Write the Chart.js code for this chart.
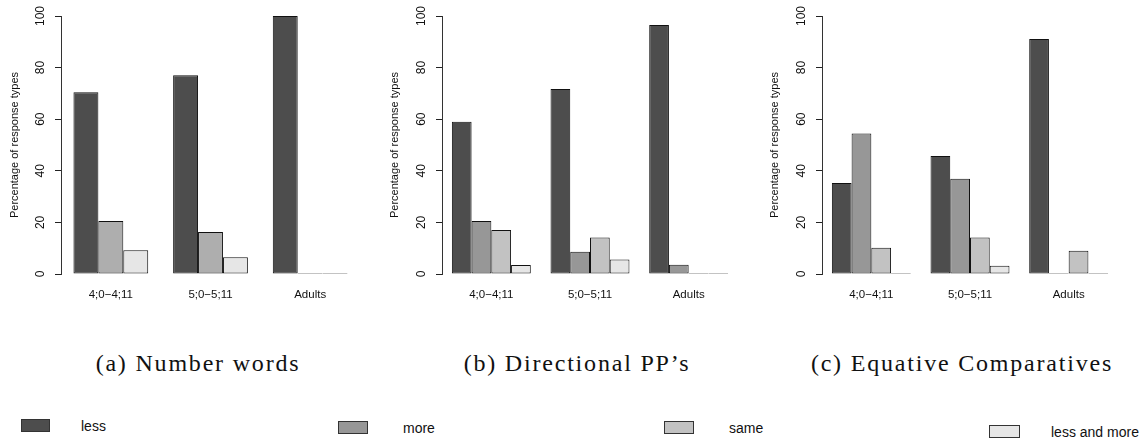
<!DOCTYPE html>
<html>
<head>
<meta charset="utf-8">
<script src="https://cdn.jsdelivr.net/npm/chart.js@4/dist/chart.umd.min.js"></script>
<style>
  html, body { margin: 0; padding: 0; background: #fff; }
  #wrap { position: relative; width: 1146px; height: 438px; overflow: hidden; background: #fff; }
  canvas { position: absolute; top: 0; }
  .cap {
    position: absolute; top: 349px; width: 380px; text-align: center;
    font-family: "Liberation Serif", serif; font-size: 24px; letter-spacing: 1.8px;
    color: #111; white-space: nowrap; line-height: 28px;
  }
  .key { position: absolute; font-family: "Liberation Sans", Arial, sans-serif; font-size: 14px; color: #111; line-height: 16px; }
  .box { position: absolute; height: 11px; border: 1px solid #333; }
</style>
</head>
<body>
<div id="wrap">
  <canvas id="chartA" width="380" height="310" style="left:0px"></canvas>
  <canvas id="chartB" width="380" height="310" style="left:380px"></canvas>
  <canvas id="chartC" width="380" height="310" style="left:760px"></canvas>
  <div class="cap" style="left:8px">(a) Number words</div>
  <div class="cap" style="left:387px">(b) Directional PP’s</div>
  <div class="cap" style="left:772px">(c) Equative Comparatives</div>
  <div id="legend"></div>
</div>
<script>
// --- data (percent of response types) ---
const groups = ["4;0\u22124;11", "5;0\u22125;11", "Adults"];
const yTicks = [0, 20, 40, 60, 80, 100];
const yTitle = "Percentage of response types";

// (a) Number words
const lessA = [70.4, 77.0, 100];
const moreA = [20.5, 16.3, 0];
const lamA = [9.2, 6.5, 0];

// (b) Directional PP's
const lessB = [59.0, 71.7, 96.5];
const moreB = [20.5, 8.6, 3.6];
const sameB = [17.1, 14.1, 0];
const lamB = [3.5, 5.6, 0];

// (c) Equative Comparatives
const lessC = [35.3, 45.7, 91.1];
const moreC = [54.5, 36.9, 0];
const sameC = [10.2, 14.1, 9.0];
const lamC = [0, 3.2, 0];

const legendLabels = ["less", "more", "same", "less and more"];
const greys4 = ["#4D4D4D", "#979797", "#C2C2C2", "#E6E6E6"];
const greys3 = ["#4D4D4D", "#AEAEAE", "#E6E6E6"];

const sans = "'Liberation Sans', Arial, sans-serif";

function makeChart(id, series, names, colors, axisW, padRight, catPct) {
  const datasets = series.map((vals, i) => ({
    label: names[i],
    data: vals,
    backgroundColor: colors[i],
    borderColor: "#111",
    borderWidth: 1,
    borderSkipped: false,
    minBarLength: 1,
    barPercentage: 1.0,
    categoryPercentage: catPct,
  }));
  return new Chart(document.getElementById(id), {
    type: "bar",
    data: { labels: groups, datasets: datasets },
    options: {
      responsive: false,
      animation: false,
      layout: { padding: { top: 16, right: padRight, left: 0, bottom: 0 } },
      plugins: { legend: { display: false }, tooltip: { enabled: false } },
      scales: {
        x: {
          grid: { display: false, drawTicks: false },
          border: { display: false },
          ticks: { color: "#111", font: { family: sans, size: 11.5 }, padding: 14 },
          afterFit: (s) => { s.height = 36; },
        },
        y: {
          min: 0,
          max: 100,
          afterBuildTicks: (s) => { s.ticks = yTicks.map((v) => ({ value: v })); },
          ticks: {
            color: "#111",
            font: { family: sans, size: 12 },
            minRotation: 90,
            maxRotation: 90,
            crossAlign: "center",
            padding: 4,
          },
          grid: { drawOnChartArea: false, drawTicks: true, tickLength: 6, tickColor: "#222" },
          border: { display: true, color: "#333", width: 1 },
          title: {
            display: true,
            text: yTitle,
            color: "#111",
            font: { family: sans, size: 11 },
            padding: { top: 8, bottom: 0 },
          },
          afterFit: (s) => { s.width = axisW; },
        },
      },
    },
  });
}

makeChart("chartA", [lessA, moreA, lamA], ["less", "more", "less and more"], greys3, 61, 20, 0.75);
makeChart("chartB", [lessB, moreB, sameB, lamB], legendLabels, greys4, 62, 22, 0.8);
makeChart("chartC", [lessC, moreC, sameC, lamC], legendLabels, greys4, 62, 22, 0.8);

// --- legend row under the captions ---
const legendPos = [
  { box: [21, 419, 27], text: [81, 418] },
  { box: [338, 421, 28], text: [403, 420] },
  { box: [664, 421, 28], text: [729, 420] },
  { box: [989, 425, 29], text: [1051, 424] },
];
const legend = document.getElementById("legend");
legendLabels.forEach((name, i) => {
  const p = legendPos[i];
  const b = document.createElement("div");
  b.className = "box";
  b.style.left = p.box[0] + "px";
  b.style.top = p.box[1] + "px";
  b.style.width = p.box[2] + "px";
  b.style.background = greys4[i];
  legend.appendChild(b);
  const t = document.createElement("div");
  t.className = "key";
  t.style.left = p.text[0] + "px";
  t.style.top = p.text[1] + "px";
  t.textContent = name;
  legend.appendChild(t);
});
</script>
</body>
</html>
